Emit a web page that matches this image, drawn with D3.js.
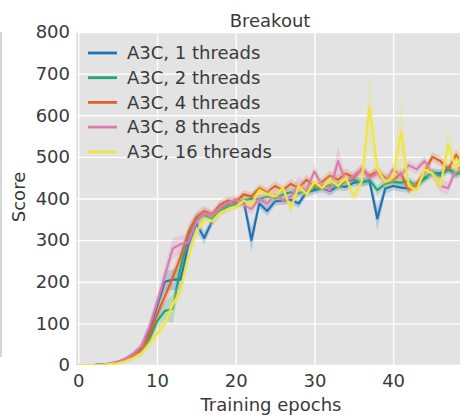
<!DOCTYPE html>
<html><head><meta charset="utf-8">
<script src="https://cdn.jsdelivr.net/npm/d3@7"></script>
<style>html,body{margin:0;padding:0;background:#fff;}svg{display:block;font-family:"DejaVu Sans",sans-serif;}</style>
</head><body><div id="chart"></div>
<script>
const title = "Breakout";
const xLabel = "Training epochs";
const yLabel = "Score";
const seriesNames = ["A3C, 1 threads","A3C, 2 threads","A3C, 4 threads","A3C, 8 threads","A3C, 16 threads"];
const seriesColors = ["#1f73b3","#22a57a","#dd6428","#dc7bae","#efe645"];
const xTicks = [0,10,20,30,40];
const yTicks = [0,100,200,300,400,500,600,700,800];
const epochs = [0,1,2,3,4,5,6,7,8,9,10,11,12,13,14,15,16,17,18,19,20,21,22,23,24,25,26,27,28,29,30,31,32,33,34,35,36,37,38,39,40,41,42,43,44,45,46,47,48,49];

const blue = [0,0,0,1,3,7,14,24,40,80,140,200,205,205,290,340,305,345,370,380,390,395,300,388,370,393,395,397,388,415,420,425,418,430,428,438,440,442,352,424,430,426,424,432,448,462,460,472,458,465];
const blueStd = [0,0,0,1,2,3,5,6,8,12,18,22,25,25,20,18,15,12,10,10,10,10,30,12,12,10,10,10,10,10,10,10,10,10,10,10,10,10,28,12,10,10,10,10,10,10,10,10,10,10];
const green = [0,0,0,1,3,6,11,20,30,60,105,130,135,235,310,350,360,352,372,385,385,395,400,398,405,400,410,415,412,420,425,428,432,430,440,445,438,445,420,435,440,438,442,430,450,462,455,470,460,470];
const greenStd = [0,0,0,1,2,3,4,6,8,12,18,22,35,25,20,15,12,10,10,10,10,10,10,10,10,10,10,10,10,10,10,10,10,10,10,10,10,10,12,10,10,10,10,10,10,10,10,10,10,10];
const orange = [0,0,0,1,3,6,12,22,36,70,120,165,210,260,320,355,370,362,385,395,392,410,405,425,415,430,420,435,425,445,430,440,455,445,460,450,470,455,465,450,445,460,420,435,465,500,490,470,505,480];
const orangeStd = [0,0,0,1,2,3,4,6,8,12,16,20,22,20,18,14,12,10,10,10,10,10,10,10,10,12,10,12,10,12,10,10,12,10,12,10,12,10,12,10,10,12,10,10,12,12,12,10,12,12];
const pink = [0,0,0,1,4,8,15,28,45,90,150,215,280,290,295,345,365,360,378,390,398,385,375,400,388,410,395,405,430,420,465,430,420,490,440,455,470,450,460,440,470,455,480,470,490,460,430,425,470,480];
const pinkStd = [0,0,0,1,2,3,5,7,10,15,20,25,25,22,20,15,12,10,10,10,10,12,12,12,12,12,12,12,25,12,15,12,12,35,12,12,12,12,12,12,12,12,12,12,12,12,15,15,12,12];
const yellow = [0,0,0,0,2,4,9,17,28,50,75,100,145,180,260,320,350,345,365,375,380,395,385,420,410,405,425,375,430,410,440,425,445,430,450,405,440,620,470,440,450,560,430,420,470,460,430,530,470,520];
const yellowStd = [0,0,0,0,1,2,4,6,8,12,15,18,20,22,20,15,12,10,10,10,10,10,10,12,12,12,12,12,12,12,12,12,12,12,12,15,15,85,25,15,15,90,15,15,15,15,15,40,20,60];

const seriesValues = [blue, green, orange, pink, yellow];
const seriesStd = [blueStd, greenStd, orangeStd, pinkStd, yellowStd];

const W = 460, H = 415;
const pLeft = 77, pTop = 32, pBottom = 365, pRight = 460;
const FS = 18;
const TXT = "#3a3a3a";
const svg = d3.select("#chart").append("svg").attr("width", W).attr("height", H);

const x = d3.scaleLinear().domain([0, 50]).range([78.3, 78.3 + 393.5]);
const y = d3.scaleLinear().domain([0, 800]).range([pBottom, pTop]);

// neighbour panel remnant on the far left
svg.append("rect").attr("x", 0).attr("y", pTop).attr("width", 2).attr("height", 325).attr("fill", "#d6d6d6");

svg.append("rect").attr("x", pLeft).attr("y", pTop).attr("width", pRight - pLeft).attr("height", pBottom - pTop).attr("fill", "#e3e3e3");
svg.append("line").attr("x1", pLeft).attr("x2", pLeft).attr("y1", pTop).attr("y2", pBottom).attr("stroke", "#cfcfcf").attr("stroke-width", 1);

// grid
const gy = svg.append("g").attr("transform", `translate(${pLeft},0)`)
  .call(d3.axisLeft(y).tickValues(yTicks).tickSize(-(pRight - pLeft)).tickFormat(""));
gy.select(".domain").remove();
gy.selectAll("line").attr("stroke", "#fff").attr("stroke-width", 1.4);
const gx = svg.append("g").attr("transform", `translate(0,${pBottom})`)
  .call(d3.axisBottom(x).tickValues(xTicks).tickSize(-(pBottom - pTop)).tickFormat(""));
gx.select(".domain").remove();
gx.selectAll("line").attr("stroke", "#fff").attr("stroke-width", 1.4);

svg.append("defs").append("clipPath").attr("id", "clip")
  .append("rect").attr("x", pLeft).attr("y", pTop - 2).attr("width", pRight - pLeft).attr("height", pBottom - pTop + 2);
const plot = svg.append("g").attr("clip-path", "url(#clip)");

const area = d3.area().x((d, i) => x(epochs[i])).y0(d => y(Math.max(0, d[0] - d[1]))).y1(d => y(d[0] + d[1]));
const line = d3.line().x((d, i) => x(epochs[i])).y(d => y(d));

seriesValues.forEach((vals, s) => {
  const pairs = vals.map((v, i) => [v, seriesStd[s][i]]);
  plot.append("path").datum(pairs).attr("d", area).attr("fill", seriesColors[s]).attr("opacity", 0.22);
  plot.append("path").datum(vals).attr("d", line).attr("fill", "none")
    .attr("stroke", seriesColors[s]).attr("stroke-width", 2.2).attr("stroke-linejoin", "round");
});

// axis labels
const ay = svg.append("g").attr("transform", `translate(${pLeft},0)`)
  .call(d3.axisLeft(y).tickValues(yTicks).tickSize(0).tickPadding(7));
ay.select(".domain").remove();
ay.selectAll("text").attr("font-size", FS).attr("fill", TXT).attr("font-family", "DejaVu Sans");
const ax = svg.append("g").attr("transform", `translate(0,${pBottom})`)
  .call(d3.axisBottom(x).tickValues(xTicks).tickSize(0).tickPadding(9));
ax.select(".domain").remove();
ax.selectAll("text").attr("font-size", FS).attr("fill", TXT).attr("font-family", "DejaVu Sans");

svg.append("text").attr("x", 270).attr("y", 26.5).attr("text-anchor", "middle")
  .attr("font-size", FS).attr("fill", TXT).text(title);
svg.append("text").attr("x", 271).attr("y", 410.5).attr("text-anchor", "middle")
  .attr("font-size", FS).attr("fill", TXT).text(xLabel);
svg.append("text").attr("transform", "translate(25,197) rotate(-90)").attr("text-anchor", "middle")
  .attr("font-size", FS).attr("fill", TXT).text(yLabel);

// legend
const lg = svg.append("g");
seriesNames.forEach((name, i) => {
  const yy = 53 + i * 24.7;
  lg.append("line").attr("x1", 88).attr("x2", 117).attr("y1", yy).attr("y2", yy)
    .attr("stroke", seriesColors[i]).attr("stroke-width", 2.8);
  lg.append("text").attr("x", 127).attr("y", yy).attr("dy", "0.35em")
    .attr("font-size", FS).attr("fill", TXT).text(name);
});
</script></body></html>
